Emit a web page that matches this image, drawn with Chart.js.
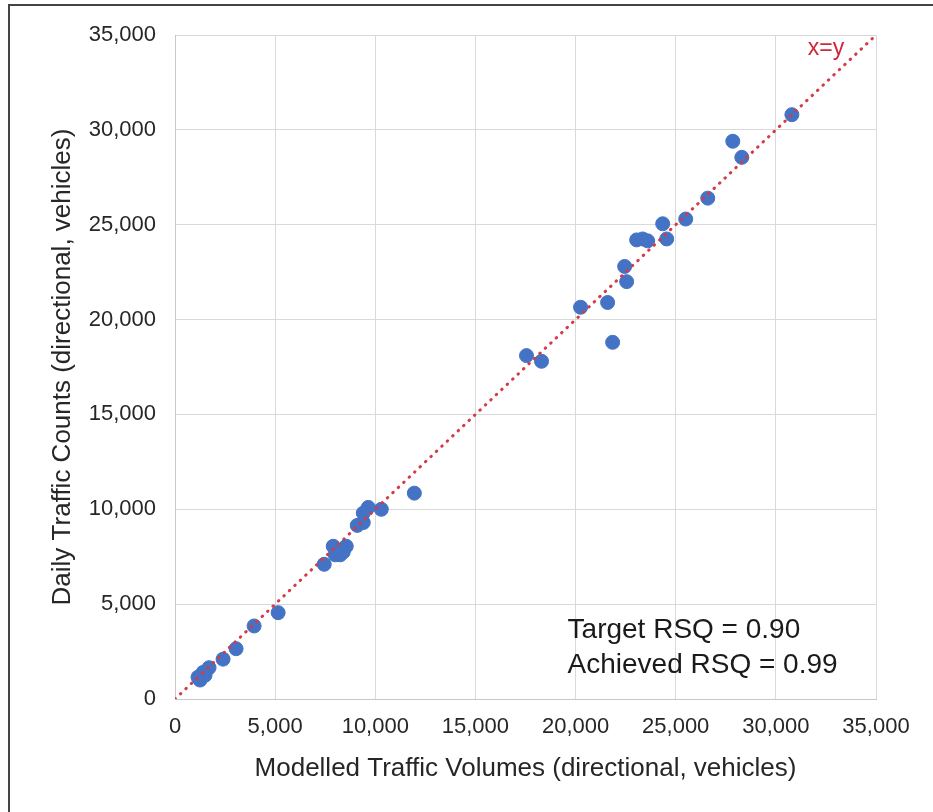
<!DOCTYPE html>
<html>
<head>
<meta charset="utf-8">
<script src="https://cdn.jsdelivr.net/npm/chart.js@4.4.0/dist/chart.umd.min.js"></script>
<style>
  body { margin: 0; background: #fff; }
  #wrap { position: relative; width: 933px; height: 812px; }
  #frame { position: absolute; left: 8px; top: 4px; right: -4px; bottom: -4px;
           border-left: 2px solid #444; border-top: 2px solid #444; pointer-events: none; }
</style>
</head>
<body>
<div id="wrap">
  <canvas id="scatter" width="933" height="812"></canvas>
  <div id="frame"></div>
</div>
<script>
// modelled volume (x) vs counted volume (y)
var modelled = [30800, 27850, 28300, 26600, 25500, 24350, 24550, 23050, 23350, 23600,
                22450, 22550, 20250, 21600, 21850, 17550, 18300, 11950, 10300, 9650,
                9400, 9100, 9400, 7900, 8550, 8250, 8400, 8000, 7450, 5150,
                3950, 3050, 2400, 1700, 1400, 1250, 1500, 1150];
var counts   = [30800, 29400, 28550, 26400, 25300, 25050, 24250, 24200, 24250, 24150,
                22800, 22000, 20650, 20900, 18800, 18100, 17800, 10850, 10000, 10100,
                9800, 9150, 9300, 8050, 8050, 7600, 7750, 7600, 7100, 4550,
                3850, 2650, 2100, 1650, 1400, 1000, 1250, 1150];
var lineEnds = [0, 35000];
var axisMax = 35000;
var axisStep = 5000;
var notes = ['Target RSQ = 0.90', 'Achieved RSQ = 0.99'];

var FONT = '"Liberation Sans", Arial, sans-serif';

var points = modelled.map(function (v, i) { return { x: v, y: counts[i] }; });
var diag = lineEnds.map(function (v) { return { x: v, y: v }; });

var fmt = function (v) { return Number(v).toLocaleString('en-US'); };

var textPlugin = {
    id: 'notes',
    afterDatasetsDraw: function (chart) {
        var ctx = chart.ctx;
        var xs = chart.scales.x, ys = chart.scales.y;
        ctx.save();
        ctx.fillStyle = '#d0283c';
        ctx.font = '23px ' + FONT;
        ctx.textAlign = 'center';
        ctx.textBaseline = 'middle';
        ctx.fillText('x=y', xs.getPixelForValue(32500), ys.getPixelForValue(34300));

        ctx.fillStyle = '#1a1a1a';
        ctx.font = '28px ' + FONT;
        ctx.textAlign = 'left';
        ctx.fillText(notes[0], xs.getPixelForValue(19600), ys.getPixelForValue(3600));
        ctx.fillText(notes[1], xs.getPixelForValue(19600), ys.getPixelForValue(1800));
        ctx.restore();
    }
};

var ctx = document.getElementById('scatter').getContext('2d');
var myChart = new Chart(ctx, {
    type: 'scatter',
    data: {
        datasets: [{
            type: 'line',
            label: 'x=y',
            data: diag,
            borderColor: '#d23c4a',
            borderWidth: 3,
            borderDash: [0.5, 7],
            borderCapStyle: 'round',
            pointRadius: 0,
            fill: false
        }, {
            label: 'Counts',
            data: points,
            backgroundColor: '#4472c4',
            borderColor: '#4472c4',
            borderWidth: 1,
            pointRadius: 7
        }]
    },
    plugins: [textPlugin],
    options: {
        responsive: false,
        animation: false,
        layout: { padding: { left: 0, top: 35, right: 57, bottom: 0 } },
        plugins: {
            legend: { display: false },
            tooltip: { enabled: false }
        },
        scales: {
            x: {
                type: 'linear',
                min: 0,
                max: axisMax,
                afterFit: function (s) { s.height = 113; },
                ticks: { stepSize: axisStep, callback: fmt, padding: 15, color: '#262626',
                         font: { family: FONT, size: 22 } },
                grid: { color: '#d9d9d9', drawTicks: false },
                border: { color: '#c8c8c8' },
                title: { display: true, text: 'Modelled Traffic Volumes (directional, vehicles)',
                         color: '#262626', font: { family: FONT, size: 26 },
                         padding: { top: 0, bottom: 28 } }
            },
            y: {
                type: 'linear',
                min: 0,
                max: axisMax,
                afterFit: function (s) { s.width = 175; },
                ticks: { stepSize: axisStep, callback: fmt, padding: 19, color: '#262626',
                         font: { family: FONT, size: 22 } },
                grid: { color: '#d9d9d9', drawTicks: false },
                border: { color: '#c8c8c8' },
                title: { display: true, text: 'Daily Traffic Counts (directional, vehicles)',
                         color: '#262626', font: { family: FONT, size: 26 },
                         padding: { top: 47, bottom: 0 } }
            }
        }
    }
});
</script>
</body>
</html>
